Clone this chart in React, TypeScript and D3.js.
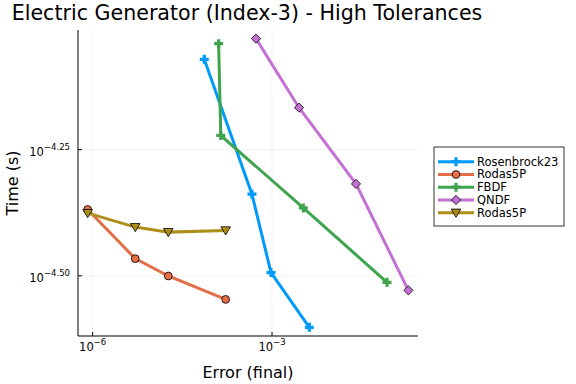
import React, { useEffect, useRef } from 'react';
import * as d3 from 'd3';

// solver names, in legend order
const seriesNames = ['Rosenbrock23', 'Rodas5P', 'FBDF', 'QNDF', 'Rodas5P'];
const seriesColors = ['#009AFA', '#E36F47', '#3EA44E', '#C371D2', '#AC8E18'];
const seriesMarkers = ['cross', 'circle', 'cross', 'diamond', 'dtriangle'];

// final error (x) and time in seconds (y)
const rosenbrockErr = [7.36e-5, 4.62e-4, 9.62e-4, 4.21e-3];
const rosenbrockTime = [8.49e-5, 4.59e-5, 3.21e-5, 2.50e-5];
const rodasErr = [8.24e-7, 5.16e-6, 1.84e-5, 1.68e-4];
const rodasTime = [4.28e-5, 3.42e-5, 3.16e-5, 2.84e-5];
const fbdfErr = [1.28e-4, 1.39e-4, 3.34e-3, 8.39e-2];
const fbdfTime = [9.12e-5, 6.0e-5, 4.31e-5, 3.07e-5];
const qndfErr = [5.4e-4, 2.83e-3, 2.54e-2, 1.91e-1];
const qndfTime = [9.33e-5, 6.81e-5, 4.81e-5, 2.96e-5];
const rodas2Err = [8.24e-7, 5.16e-6, 1.84e-5, 1.68e-4];
const rodas2Time = [4.21e-5, 3.95e-5, 3.86e-5, 3.89e-5];

const xTickExp = ['6', '3'];
const xTickVals = [1e-6, 1e-3];
const yTickExp = ['4.25', '4.50'];
const yTickVals = [Math.pow(10, -4.25), Math.pow(10, -4.5)];

const W = 576, H = 384;

function markerPath(kind) {
  if (kind === 'cross') {
    var a = 4.5, t = 1.6;
    return `M${-t},${-a}H${t}V${-t}H${a}V${t}H${t}V${a}H${-t}V${t}H${-a}V${-t}H${-t}Z`;
  }
  if (kind === 'diamond') return 'M0,-4.6L4.6,0L0,4.6L-4.6,0Z';
  if (kind === 'dtriangle') return 'M-4.8,-3.6L4.8,-3.6L0,4.6Z';
  return d3.symbol().type(d3.symbolCircle).size(48)();
}

export default function App() {
  const ref = useRef(null);

  useEffect(() => {
    const svg = d3.select(ref.current);
    svg.selectAll('*').remove();

    const series = [
      [rosenbrockErr, rosenbrockTime],
      [rodasErr, rodasTime],
      [fbdfErr, fbdfTime],
      [qndfErr, qndfTime],
      [rodas2Err, rodas2Time],
    ];

    const left = 78, right = 418, top = 30, bottom = 336;

    // plots-style limits: log extent padded by 3%
    const pad = (vals) => {
      const e = d3.extent(vals.map(Math.log10));
      const p = (e[1] - e[0]) * 0.03;
      return [Math.pow(10, e[0] - p), Math.pow(10, e[1] + p)];
    };
    const x = d3.scaleLog().domain(pad(series.flatMap(s => s[0]))).range([left, right]);
    const y = d3.scaleLog().domain(pad(series.flatMap(s => s[1]))).range([bottom, top]);

    svg.append('rect').attr('width', W).attr('height', H).attr('fill', 'white');

    // grid
    svg.selectAll('.gx').data(xTickVals).enter().append('line')
      .attr('x1', d => x(d)).attr('x2', d => x(d))
      .attr('y1', top).attr('y2', bottom)
      .attr('stroke', '#000').attr('stroke-opacity', 0.1).attr('stroke-width', 0.5);
    svg.selectAll('.gy').data(yTickVals).enter().append('line')
      .attr('y1', d => y(d)).attr('y2', d => y(d))
      .attr('x1', left).attr('x2', right)
      .attr('stroke', '#000').attr('stroke-opacity', 0.1).attr('stroke-width', 0.5);

    // axes
    svg.append('line').attr('x1', left).attr('x2', left).attr('y1', top).attr('y2', bottom)
      .attr('stroke', '#000').attr('stroke-width', 1);
    svg.append('line').attr('x1', left).attr('x2', right).attr('y1', bottom).attr('y2', bottom)
      .attr('stroke', '#000').attr('stroke-width', 1);

    // ticks (inward)
    svg.selectAll('.tx').data(xTickVals).enter().append('line')
      .attr('x1', d => x(d)).attr('x2', d => x(d))
      .attr('y1', bottom).attr('y2', bottom - 4).attr('stroke', '#000');
    svg.selectAll('.ty').data(yTickVals).enter().append('line')
      .attr('y1', d => y(d)).attr('y2', d => y(d))
      .attr('x1', left).attr('x2', left + 4).attr('stroke', '#000');

    const font = 'DejaVu Sans, sans-serif';

    xTickVals.forEach((v, i) => {
      const t = svg.append('text').attr('x', x(v)).attr('y', 351)
        .attr('text-anchor', 'middle').attr('font-family', font).attr('font-size', 11.5);
      t.append('tspan').text('10');
      t.append('tspan').attr('dy', -6).attr('font-size', 8.5).text('\u2212' + xTickExp[i]);
    });
    yTickVals.forEach((v, i) => {
      const t = svg.append('text').attr('x', 70).attr('y', y(v) + 6)
        .attr('text-anchor', 'end').attr('font-family', font).attr('font-size', 11.5);
      t.append('tspan').text('10');
      t.append('tspan').attr('dy', -6).attr('font-size', 8.5).text('\u2212' + yTickExp[i]);
    });

    // labels and title
    svg.append('text').attr('x', (left + right) / 2).attr('y', 378)
      .attr('text-anchor', 'middle').attr('font-family', font).attr('font-size', 16)
      .text('Error (final)');
    svg.append('text').attr('transform', `translate(18,${(top + bottom) / 2}) rotate(-90)`)
      .attr('text-anchor', 'middle').attr('font-family', font).attr('font-size', 16)
      .text('Time (s)');
    svg.append('text').attr('x', 247).attr('y', 20)
      .attr('text-anchor', 'middle').attr('font-family', font).attr('font-size', 20.6)
      .text('Electric Generator (Index-3) - High Tolerances');

    // series
    const line = d3.line().x(d => x(d[0])).y(d => y(d[1]));
    series.forEach((s, i) => {
      const pts = s[0].map((e, j) => [e, s[1][j]]);
      svg.append('path').datum(pts).attr('d', line).attr('fill', 'none')
        .attr('stroke', seriesColors[i]).attr('stroke-width', 3);
      svg.selectAll('.m' + i).data(pts).enter().append('path')
        .attr('transform', d => `translate(${x(d[0])},${y(d[1])})`)
        .attr('d', markerPath(seriesMarkers[i]))
        .attr('fill', seriesColors[i])
        .attr('stroke', seriesMarkers[i] === 'cross' ? 'none' : '#000')
        .attr('stroke-width', 0.8);
    });

    // legend
    const lg = svg.append('g');
    lg.append('rect').attr('x', 434).attr('y', 147).attr('width', 130).attr('height', 79)
      .attr('fill', 'white').attr('stroke', '#000').attr('stroke-width', 0.8);
    seriesNames.forEach((name, i) => {
      const ly = 161.7 + i * 12.75;
      lg.append('line').attr('x1', 438).attr('x2', 474).attr('y1', ly).attr('y2', ly)
        .attr('stroke', seriesColors[i]).attr('stroke-width', 3);
      lg.append('path').attr('transform', `translate(456,${ly})`)
        .attr('d', markerPath(seriesMarkers[i]))
        .attr('fill', seriesColors[i])
        .attr('stroke', seriesMarkers[i] === 'cross' ? 'none' : '#000')
        .attr('stroke-width', 0.8);
      lg.append('text').attr('x', 477).attr('y', ly + 4).attr('font-family', font)
        .attr('font-size', 11.5).text(name);
    });
  }, []);

  return <svg ref={ref} width={W} height={H} style={{ display: 'block', position: 'absolute', left: 0, top: 0 }}></svg>;
}
